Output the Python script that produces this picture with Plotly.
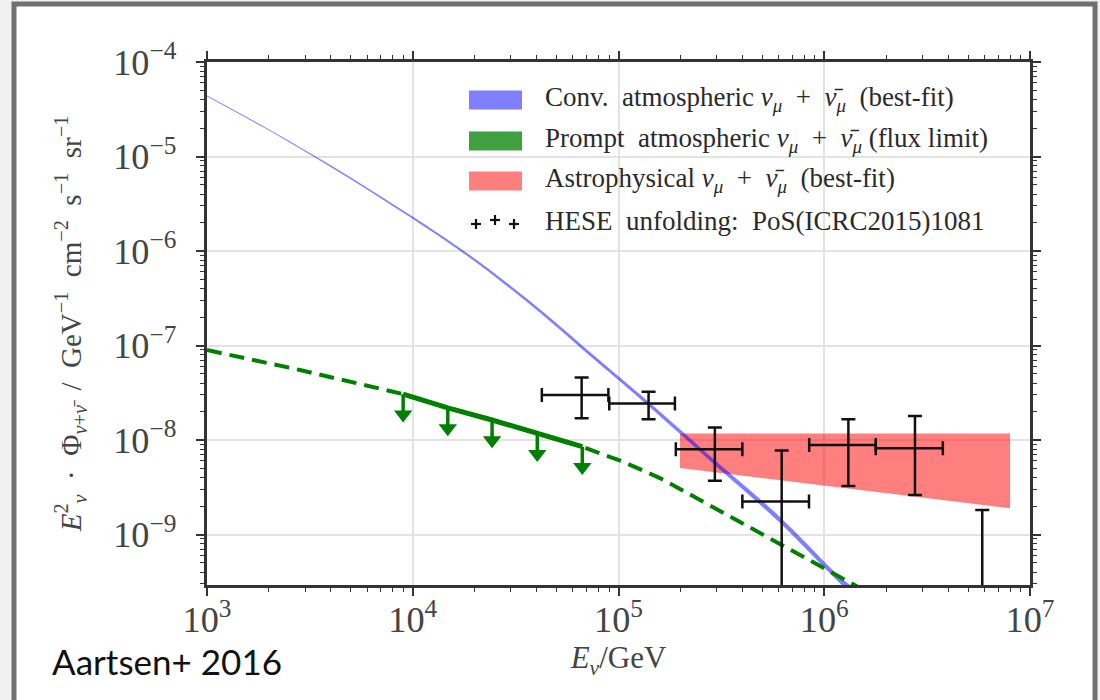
import plotly.graph_objects as go

# ---------------- data ----------------
# Conventional atmospheric nu_mu flux (best fit), centre of band
conv_E = [1.0e3, 1.85e3, 3.43e3, 7.33e3, 1.77e4, 3.72e4, 7.85e4, 1.38e5, 2.88e5, 6.10e5, 1.15e6, 1.49e6]
conv_F = [4.37e-5, 2.10e-5, 9.64e-6, 3.47e-6, 9.75e-7, 2.82e-7, 7.03e-8, 2.47e-8, 6.0e-9, 1.42e-9, 3.55e-10, 2.13e-10]
conv_halfwidth_dex = [0.005, 0.006, 0.008, 0.011, 0.014, 0.017, 0.020, 0.023, 0.027, 0.031, 0.033, 0.033]

# Prompt atmospheric model (dashed)
prompt_E = [1.0e3, 2.83e3, 8.98e3, 1.48e4, 2.43e4, 4.03e4, 6.67e4, 1.05e5, 1.59e5, 2.49e5, 3.89e5, 6.10e5, 1.15e6, 1.49e6]
prompt_F = [8.95e-8, 5.51e-8, 3.06e-8, 2.19e-8, 1.63e-8, 1.17e-8, 8.5e-9, 5.9e-9, 3.96e-9, 2.32e-9, 1.36e-9, 8.13e-10, 3.72e-10, 2.72e-10]

# Prompt flux limit (solid with arrows)
limit_E = [8.98e3, 1.48e4, 2.43e4, 4.03e4, 6.67e4]
limit_F = [3.06e-8, 2.19e-8, 1.63e-8, 1.17e-8, 8.5e-9]

# Astrophysical best-fit band
astro_E = [1.99e5, 8.0e6]
astro_upper = [1.17e-8, 1.17e-8]
astro_lower = [5.06e-9, 1.90e-9]

# HESE unfolding points
hese_E = [6.62e4, 1.40e5, 2.94e5, 6.21e5, 1.31e6, 2.76e6, 5.86e6]
hese_E_lo = [4.24e4, 9.02e4, 1.90e5, 4.00e5, 8.45e5, 1.78e6, 3.77e6]
hese_E_hi = [8.93e4, 1.88e5, 4.00e5, 8.43e5, 1.78e6, 3.77e6, 8.60e6]
hese_F = [2.99e-8, 2.44e-8, 7.98e-9, 2.23e-9, 8.85e-9, 8.17e-9, 1.0e-10]
hese_F_hi = [4.60e-8, 3.24e-8, 1.36e-8, 7.74e-9, 1.66e-8, 1.80e-8, 1.82e-9]
hese_F_lo = [1.70e-8, 1.66e-8, 3.71e-9, 0.0, 3.26e-9, 2.62e-9, 0.0]

NUMU = "<i>ν</i><sub><i>μ</i></sub>\u2002+\u2002<i>ν̄</i><sub><i>μ</i></sub>"
legend_labels = [
    "Conv.\u2002atmospheric " + NUMU + "\u2002(best-fit)",
    "Prompt\u2002atmospheric " + NUMU + " (flux limit)",
    "Astrophysical " + NUMU + "\u2002(best-fit)",
    "HESE\u2002unfolding:\u2002PoS(ICRC2015)1081",
]
legend_colors = ["rgba(0,0,255,0.5)", "rgba(0,128,0,0.75)", "rgba(255,0,0,0.5)"]

# ---------------- layout geometry ----------------
W, H = 1100, 700
L, R, T, B = 207, 70, 62, 115
PW, PH = W - L - R, H - T - B


def px(xp):
    return (xp - L) / PW


def py(yp):
    return (H - B - yp) / PH


SERIF = "Liberation Serif"
GREEN = "#008000"
AX = "#333333"

fig = go.Figure()

# astrophysical band
fig.add_trace(go.Scatter(
    x=astro_E + astro_E[::-1], y=astro_upper + astro_lower[::-1],
    fill="toself", fillcolor="rgba(255,0,0,0.5)", mode="lines",
    line=dict(width=0), hoverinfo="skip", showlegend=False))

# conventional atmospheric band
conv_up = [f * 10 ** d for f, d in zip(conv_F, conv_halfwidth_dex)]
conv_dn = [f / 10 ** d for f, d in zip(conv_F, conv_halfwidth_dex)]
fig.add_trace(go.Scatter(
    x=conv_E + conv_E[::-1], y=conv_up + conv_dn[::-1],
    fill="toself", fillcolor="rgba(0,0,255,0.5)", mode="lines", line_shape="spline",
    line=dict(width=0, smoothing=1.0), hoverinfo="skip", showlegend=False))

# prompt model (dashed)
fig.add_trace(go.Scatter(
    x=prompt_E, y=prompt_F, mode="lines",
    line=dict(color=GREEN, width=4, dash="15px,8px"), showlegend=False))

# prompt flux limit (solid)
fig.add_trace(go.Scatter(
    x=limit_E, y=limit_F, mode="lines",
    line=dict(color=GREEN, width=5), showlegend=False))

# arrows (shafts + heads)
drop = 10 ** 0.215
sx, sy = [], []
for e, f in zip(limit_E, limit_F):
    sx += [e, e, None]
    sy += [f, f / drop, None]
fig.add_trace(go.Scatter(x=sx, y=sy, mode="lines",
                         line=dict(color=GREEN, width=3.5), showlegend=False))
fig.add_trace(go.Scatter(
    x=limit_E, y=[f / drop for f in limit_F], mode="markers",
    marker=dict(symbol="triangle-down", size=16, color=GREEN, line=dict(width=0)),
    showlegend=False))

# HESE points
fig.add_trace(go.Scatter(
    x=hese_E, y=hese_F, mode="markers",
    marker=dict(size=1, color="rgba(0,0,0,0)"),
    error_x=dict(type="data", symmetric=False,
                 array=[h - c for h, c in zip(hese_E_hi, hese_E)],
                 arrayminus=[c - l for l, c in zip(hese_E_lo, hese_E)],
                 color="#111111", thickness=2.5, width=7),
    error_y=dict(type="data", symmetric=False,
                 array=[h - c for h, c in zip(hese_F_hi, hese_F)],
                 arrayminus=[c - l for l, c in zip(hese_F_lo, hese_F)],
                 color="#111111", thickness=2.5, width=7),
    showlegend=False))

# ---------------- manual legend ----------------
shapes = []
annotations = []
row_y = [100, 141, 181, 222]
for i, col in enumerate(legend_colors):
    shapes.append(dict(type="rect", xref="paper", yref="paper",
                       x0=px(469), x1=px(522), y0=py(row_y[i] - 9.5), y1=py(row_y[i] + 9.5),
                       fillcolor=col, line=dict(width=0), layer="above"))
for cx, cy in [(476, 224), (495, 220), (514, 224)]:
    shapes.append(dict(type="line", xref="paper", yref="paper",
                       x0=px(cx - 5), x1=px(cx + 5), y0=py(cy), y1=py(cy),
                       line=dict(color="#111", width=2.2)))
    shapes.append(dict(type="line", xref="paper", yref="paper",
                       x0=px(cx), x1=px(cx), y0=py(cy - 5), y1=py(cy + 5),
                       line=dict(color="#111", width=2.2)))
for i, lab in enumerate(legend_labels):
    annotations.append(dict(text=lab, xref="paper", yref="paper", x=px(543), y=py(row_y[i] - 1),
                            xanchor="left", yanchor="middle", showarrow=False,
                            font=dict(family=SERIF, size=27, color="#2a2a2a")))

# figure frame
shapes.insert(0, dict(type="rect", xref="paper", yref="paper",
                      x0=px(14), x1=px(1095), y0=py(720), y1=py(4),
                      fillcolor="white", line=dict(color="#707070", width=5), layer="below"))

annotations.append(dict(text="Aartsen+ 2016", xref="paper", yref="paper",
                        x=px(50), y=py(661), xanchor="left", yanchor="middle", showarrow=False,
                        font=dict(family="Lato", size=35, color="#111")))

axis_common = dict(
    type="log", showline=True, linewidth=2.5, linecolor=AX, mirror="allticks",
    ticks="outside", ticklen=8, tickwidth=2, tickcolor=AX,
    minor=dict(ticks="outside", ticklen=4, tickwidth=1.3, tickcolor=AX, showgrid=False),
    showgrid=True, gridcolor="#e3e3e3", gridwidth=1.5,
    dtick=1, exponentformat="power", showexponent="all",
    tickfont=dict(family=SERIF, size=29, color="#444"),
    zeroline=False,
)

YTITLE = ("<i>E</i><sup>2</sup><sub><i>ν</i></sub>\u2002·\u2002Φ<sub><i>ν</i>+<i>ν̄</i></sub>"
          "\u2002/\u2002GeV<sup>−1</sup>\u2002cm<sup>−2</sup>\u2002s<sup>−1</sup>\u2002sr<sup>−1</sup>")

fig.update_layout(
    width=W, height=H, autosize=False,
    margin=dict(l=L, r=R, t=T, b=B),
    paper_bgcolor="#f1f1f1", plot_bgcolor="white",
    xaxis=dict(axis_common, range=[3, 7], ticklabelstandoff=-6,
               title=dict(text="<i>E</i><sub><i>ν</i></sub>/GeV",
                          font=dict(family=SERIF, size=31, color="#444"), standoff=8)),
    yaxis=dict(axis_common, range=[-9.534, -4.0], ticklabelstandoff=14,
               title=dict(text=YTITLE,
                          font=dict(family=SERIF, size=29, color="#444"), standoff=24)),
    shapes=shapes, annotations=annotations,
    showlegend=False,
)

fig.write_html("out.html")
